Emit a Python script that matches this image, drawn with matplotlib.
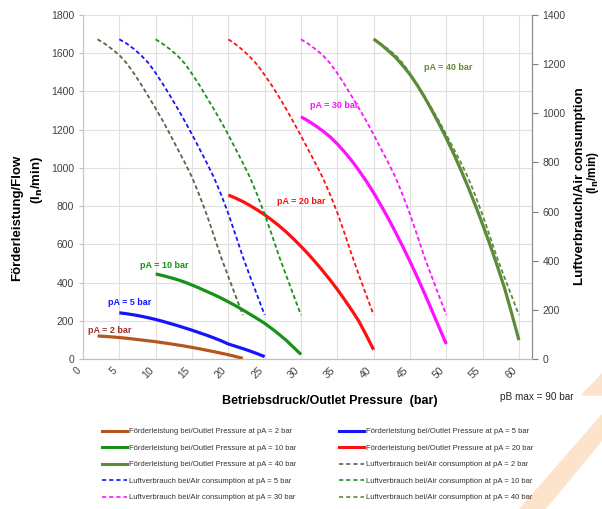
import matplotlib.pyplot as plt
from matplotlib.lines import Line2D
from matplotlib.patches import Polygon

plt.rcParams['font.family'] = ['Liberation Sans', 'DejaVu Sans']

# Förderleistung / flow (left axis, l_n/min)
flow_2_x = [2, 4, 6, 8, 10, 12, 14, 16, 18, 20, 22]
flow_2_y = [122, 117, 110, 101, 92, 81, 69, 55, 40, 24, 5]
flow_5_x = [5, 6, 7, 8, 9, 10, 11, 12, 13, 14, 15, 16, 17, 18, 19, 20, 21, 22, 23, 24, 25]
flow_5_y = [243, 238, 232, 225, 217, 208, 198, 187, 176, 164, 152, 139, 126, 112, 97, 80, 68, 56, 43, 29, 14]
flow_10_x = [10, 11, 12, 13, 14, 15, 16, 17, 18, 19, 20, 21, 22, 23, 24, 25, 26, 27, 28, 29, 30]
flow_10_y = [446, 437, 427, 416, 403, 388, 372, 355, 338, 320, 300, 280, 258, 235, 212, 188, 160, 130, 98, 62, 25]
flow_20_x = [20, 21, 22, 23, 24, 25, 26, 27, 28, 29, 30, 31, 32, 33, 34, 35, 36, 37, 38, 39, 40]
flow_20_y = [858, 842, 824, 803, 780, 755, 727, 697, 664, 628, 590, 550, 507, 462, 415, 365, 312, 256, 197, 125, 50]
flow_30_x = [30, 31, 32, 33, 34, 35, 36, 37, 38, 39, 40, 41, 42, 43, 44, 45, 46, 47, 48, 49, 50]
flow_30_y = [1267, 1245, 1220, 1193, 1162, 1125, 1083, 1037, 985, 930, 870, 805, 737, 665, 590, 512, 430, 345, 257, 168, 80]
flow_40_x = [40, 41, 42, 43, 44, 45, 46, 47, 48, 49, 50, 51, 52, 53, 54, 55, 56, 57, 58, 59, 60]
flow_40_y = [1673, 1645, 1612, 1578, 1535, 1488, 1432, 1370, 1302, 1230, 1155, 1075, 990, 900, 805, 705, 600, 490, 375, 240, 100]

# Luftverbrauch / air consumption (right axis, l_n/min)
air_2_x = [2, 3, 4, 5, 6, 7, 8, 9, 10, 11, 12, 13, 14, 15, 16, 17, 18, 19, 20, 21, 22]
air_2_y = [1300, 1282, 1260, 1236, 1203, 1162, 1117, 1068, 1019, 968, 913, 856, 800, 740, 668, 590, 504, 415, 336, 258, 180]
air_5_x = [5, 6, 7, 8, 9, 10, 11, 12, 13, 14, 15, 16, 17, 18, 19, 20, 21, 22, 23, 24, 25]
air_5_y = [1300, 1283, 1261, 1235, 1204, 1163, 1118, 1070, 1020, 968, 914, 857, 800, 740, 670, 592, 505, 416, 336, 258, 180]
air_10_x = [10, 11, 12, 13, 14, 15, 16, 17, 18, 19, 20, 21, 22, 23, 24, 25, 26, 27, 28, 29, 30]
air_10_y = [1300, 1281, 1259, 1234, 1202, 1160, 1115, 1066, 1017, 966, 912, 855, 798, 738, 667, 590, 505, 418, 338, 259, 180]
air_20_x = [20, 21, 22, 23, 24, 25, 26, 27, 28, 29, 30, 31, 32, 33, 34, 35, 36, 37, 38, 39, 40]
air_20_y = [1300, 1280, 1256, 1228, 1196, 1155, 1112, 1065, 1015, 962, 908, 852, 796, 738, 670, 596, 512, 424, 340, 260, 180]
air_30_x = [30, 31, 32, 33, 34, 35, 36, 37, 38, 39, 40, 41, 42, 43, 44, 45, 46, 47, 48, 49, 50]
air_30_y = [1300, 1282, 1260, 1236, 1203, 1162, 1117, 1068, 1019, 968, 913, 856, 800, 740, 668, 590, 504, 415, 336, 258, 180]
air_40_x = [40, 41, 42, 43, 44, 45, 46, 47, 48, 49, 50, 51, 52, 53, 54, 55, 56, 57, 58, 59, 60]
air_40_y = [1300, 1282, 1260, 1236, 1203, 1162, 1117, 1068, 1019, 968, 913, 856, 800, 738, 665, 586, 500, 412, 334, 257, 180]

c_brown = '#b4561e'
c_blue = '#1414ff'
c_green = '#169216'
c_red = '#ff1010'
c_magenta = '#ff10ff'
c_olive = '#5c8c3a'
c_darkolive = '#4e6a42'

fig = plt.figure(figsize=(6.02, 5.09), dpi=100)
ax = fig.add_axes([83 / 602, 1 - 359.3 / 509, (532 - 83) / 602, (359.3 - 14.7) / 509])
ax2 = ax.twinx()

lw_s = 2.3
lw_d = 1.3
dash = (0, (2.3, 1.5))

ax.plot(flow_2_x, flow_2_y, color=c_brown, lw=lw_s, solid_capstyle='butt')
ax.plot(flow_5_x, flow_5_y, color=c_blue, lw=lw_s, solid_capstyle='butt')
ax.plot(flow_10_x, flow_10_y, color=c_green, lw=lw_s, solid_capstyle='butt')
ax.plot(flow_20_x, flow_20_y, color=c_red, lw=lw_s, solid_capstyle='butt')
ax.plot(flow_30_x, flow_30_y, color=c_magenta, lw=lw_s, solid_capstyle='butt')
ax.plot(flow_40_x, flow_40_y, color=c_olive, lw=lw_s, solid_capstyle='butt')

ax2.plot(air_2_x, air_2_y, color=c_darkolive, lw=lw_d, ls=dash)
ax2.plot(air_5_x, air_5_y, color=c_blue, lw=lw_d, ls=dash)
ax2.plot(air_10_x, air_10_y, color=c_green, lw=lw_d, ls=dash)
ax2.plot(air_20_x, air_20_y, color=c_red, lw=lw_d, ls=dash)
ax2.plot(air_30_x, air_30_y, color=c_magenta, lw=lw_d, ls=dash)
ax2.plot(air_40_x, air_40_y, color=c_olive, lw=lw_d, ls=dash)

ax.set_xlim(0, 61.8)
ax.set_ylim(0, 1800)
ax2.set_ylim(0, 1400)
ax.set_xticks(range(0, 65, 5))
ax.set_yticks(range(0, 2000, 200))
ax2.set_yticks(range(0, 1600, 200))
ax.grid(True, color='#e0e0e0', lw=0.8)
ax.set_axisbelow(True)

tick_col = '#404040'
ax.tick_params(axis='y', labelsize=7.5, colors=tick_col, length=3, color='#bfbfbf')
ax.tick_params(axis='x', labelsize=7.5, colors=tick_col, length=0, pad=4)
ax2.tick_params(axis='y', labelsize=7.5, colors=tick_col, length=4, color='#7f7f7f')
for lab in ax.get_xticklabels():
    lab.set_rotation(45)
    lab.set_ha('right')
    lab.set_va('top')
for a in (ax, ax2):
    a.spines['top'].set_visible(False)
    a.spines['left'].set_color('#c8c8c8')
    a.spines['bottom'].set_color('#bfbfbf')
    a.spines['right'].set_color('#8c8c8c')

lab_kw = dict(fontsize=6.5, fontweight='bold')
ax.text(0.7, 153, 'pA = 2 bar', color='#a0302a', va='center', **lab_kw)
ax.text(3.45, 296, 'pA = 5 bar', color=c_blue, va='center', **lab_kw)
ax.text(7.85, 491, 'pA = 10 bar', color=c_green, va='center', **lab_kw)
ax.text(26.7, 824, 'pA = 20 bar', color=c_red, va='center', **lab_kw)
ax.text(31.2, 1328, 'pA = 30 bar', color=c_magenta, va='center', **lab_kw)
ax.text(46.9, 1523, 'pA = 40 bar', color=c_olive, va='center', **lab_kw)

fig.text(17 / 602, 1 - 218 / 509, 'Förderleistung/Flow', rotation=90, ha='center', va='center',
         fontsize=9.5, fontweight='bold')
fig.text(37 / 602, 1 - 180 / 509, '(l$_\\mathbf{n}$/min)', rotation=90, ha='center', va='center',
         fontsize=9.5, fontweight='bold')
fig.text(580 / 602, 1 - 186 / 509, 'Luftverbrauch/Air consumption', rotation=90, ha='center', va='center',
         fontsize=9.5, fontweight='bold')
fig.text(593 / 602, 1 - 172 / 509, '(l$_\\mathbf{n}$/min)', rotation=90, ha='center', va='center',
         fontsize=8.5, fontweight='bold')
fig.text(330 / 602, 1 - 401 / 509, 'Betriebsdruck/Outlet Pressure  (bar)', ha='center', va='center',
         fontsize=9, fontweight='bold')
fig.text(537 / 602, 1 - 397 / 509, 'pB max = 90 bar', ha='center', va='center', fontsize=7.2,
         color='#262626')

# watermark corner
fig.patches.append(Polygon([[582 / 602, 1 - 395 / 509], [602 / 602, 1 - 374 / 509], [602 / 602, 1 - 395 / 509]],
                           closed=True, transform=fig.transFigure, color='#fde3cb', zorder=0))
fig.patches.append(Polygon([[602 / 602, 1 - 415 / 509], [602 / 602, 1 - 440 / 509], [545 / 602, 0], [520 / 602, 0]],
                           closed=True, transform=fig.transFigure, color='#fde3cb', zorder=0))

leg_font = dict(size=5.5)
dl = (0, (2.5, 1.8))
h1 = [Line2D([], [], color=c_brown, lw=2.2),
      Line2D([], [], color=c_green, lw=2.2),
      Line2D([], [], color=c_olive, lw=2.2),
      Line2D([], [], color=c_blue, lw=1.2, ls=dl),
      Line2D([], [], color=c_magenta, lw=1.2, ls=dl)]
l1 = ['Förderleistung bei/Outlet Pressure at pA = 2 bar',
      'Förderleistung bei/Outlet Pressure at pA = 10 bar',
      'Förderleistung bei/Outlet Pressure at pA = 40 bar',
      'Luftverbrauch bei/Air consumption at pA = 5 bar',
      'Luftverbrauch bei/Air consumption at pA = 30 bar']
h2 = [Line2D([], [], color=c_blue, lw=2.2),
      Line2D([], [], color=c_red, lw=2.2),
      Line2D([], [], color=c_darkolive, lw=1.2, ls=dl),
      Line2D([], [], color=c_green, lw=1.2, ls=dl),
      Line2D([], [], color=c_olive, lw=1.2, ls=dl)]
l2 = ['Förderleistung bei/Outlet Pressure at pA = 5 bar',
      'Förderleistung bei/Outlet Pressure at pA = 20 bar',
      'Luftverbrauch bei/Air consumption at pA = 2 bar',
      'Luftverbrauch bei/Air consumption at pA = 10 bar',
      'Luftverbrauch bei/Air consumption at pA = 40 bar']
leg_kw = dict(loc='upper left', frameon=False, prop=leg_font, handlelength=3.3, handletextpad=0.25,
              labelspacing=1.2, borderaxespad=0, borderpad=0, labelcolor='#333333')
leg1 = fig.legend(h1, l1, bbox_to_anchor=(102 / 602, 1 - 428 / 509), **leg_kw)
leg2 = fig.legend(h2, l2, bbox_to_anchor=(339 / 602, 1 - 428 / 509), **leg_kw)

fig.savefig('out.png', dpi=100)
